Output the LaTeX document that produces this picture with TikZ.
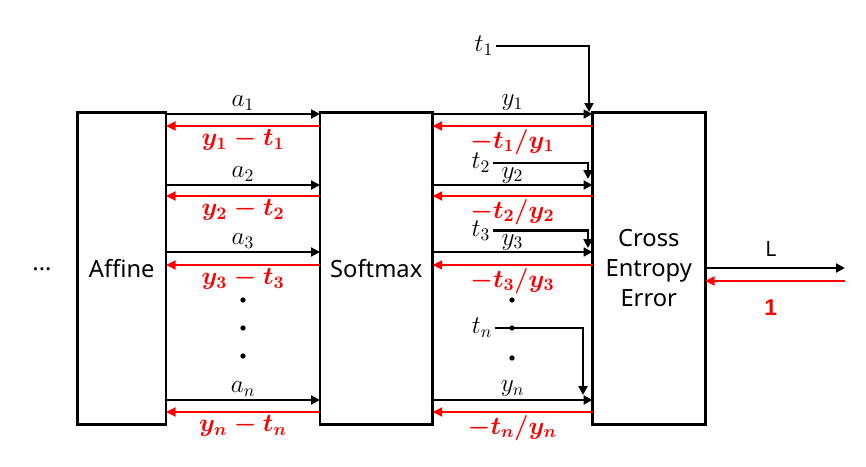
\documentclass[tikz,border=0pt]{standalone}
\usepackage{fontspec}
\newfontfamily\boxfont{Noto Sans}
\newfontfamily\onefont{Liberation Sans}
\usetikzlibrary{arrows.meta, positioning}
\definecolor{gradred}{RGB}{255, 0, 0}

\begin{document}
\begin{tikzpicture}[
    node distance=3.08cm,
    layer/.style={draw, line width=1.7pt, outer sep=0pt, minimum width=2.25cm, minimum height=6.24cm,
                  font=\boxfont\fontsize{13.5}{17}\selectfont, align=center},
    fwd/.style={-{Triangle[length=5pt, width=5pt]}, line width=1.2pt},
    bwd/.style={-{Triangle[length=5.5pt, width=5pt]}, line width=1.6pt, gradred},
    var/.style={font=\fontsize{14}{16}\selectfont, inner sep=1.5pt},
    grad/.style={font=\fontsize{14}{16}\selectfont\boldmath, text=gradred, inner sep=1pt},
    vdot/.style={circle, fill, inner sep=0pt, minimum size=3pt}
  ]
  \useasboundingbox (0,0) rectangle (17.32,9.32);
  \node[layer, minimum width=1.77cm] (affine) at (2.435,3.956) {Affine};
  \node[layer, right=3.08cm of affine] (softmax) {Softmax};
  \node[layer, right=3.2cm of softmax] (cee) {Cross\\Entropy\\Error};
  \node[font=\boxfont\fontsize{13.5}{17}\selectfont] (more) at (0.84,3.94) {...};

  % row heights: f = forward, b = backward
  \coordinate (f1) at (0,7.04); \coordinate (b1) at (0,6.80);
  \coordinate (f2) at (0,5.62); \coordinate (b2) at (0,5.40);
  \coordinate (f3) at (0,4.28); \coordinate (b3) at (0,4.02);
  \coordinate (fn) at (0,1.32); \coordinate (bn) at (0,1.08);

  % vertical dots
  \node[vdot] (ld1) at (4.86,3.32) {};
  \node[vdot] (ld2) at (4.86,2.76) {};
  \node[vdot] (ld3) at (4.86,2.20) {};
  \node[vdot] (rd1) at (10.24,3.32) {};
  \node[vdot] (rd2) at (10.24,2.76) {};
  \node[vdot] (rd3) at (10.24,2.16) {};

  % affine <-> softmax
  \draw[fwd] (affine.east |- f1) -- node[var, above] {$a_1$} (softmax.west |- f1);
  \draw[bwd] (softmax.west |- b1) -- node[grad, below] {$y_1 - t_1$} (affine.east |- b1);
  \draw[fwd] (affine.east |- f2) -- node[var, above] {$a_2$} (softmax.west |- f2);
  \draw[bwd] (softmax.west |- b2) -- node[grad, below] {$y_2 - t_2$} (affine.east |- b2);
  \draw[fwd] (affine.east |- f3) -- node[var, above] {$a_3$} (softmax.west |- f3);
  \draw[bwd] (softmax.west |- b3) -- node[grad, below] {$y_3 - t_3$} (affine.east |- b3);
  \draw[fwd] (affine.east |- fn) -- node[var, above] {$a_n$} (softmax.west |- fn);
  \draw[bwd] (softmax.west |- bn) -- node[grad, below] {$y_n - t_n$} (affine.east |- bn);

  % softmax <-> cross entropy
  \draw[fwd] (softmax.east |- f1) -- node[var, above] {$y_1$} (cee.west |- f1);
  \draw[bwd] (cee.west |- b1) -- node[grad, below] {$-t_1/y_1$} (softmax.east |- b1);
  \draw[fwd] (softmax.east |- f2) -- node[var, above, inner sep=0.5pt] {$y_2$} (cee.west |- f2);
  \draw[bwd] (cee.west |- b2) -- node[grad, below] {$-t_2/y_2$} (softmax.east |- b2);
  \draw[fwd] (softmax.east |- f3) -- node[var, above, inner sep=0.5pt] {$y_3$} (cee.west |- f3);
  \draw[bwd] (cee.west |- b3) -- node[grad, below] {$-t_3/y_3$} (softmax.east |- b3);
  \draw[fwd] (softmax.east |- fn) -- node[var, above] {$y_n$} (cee.west |- fn);
  \draw[bwd] (cee.west |- bn) -- node[grad, below] {$-t_n/y_n$} (softmax.east |- bn);

  % teacher labels
  \node[var] (t1) at (9.68,8.40) {$t_1$};
  \node[var] (t2) at (9.62,6.06) {$t_2$};
  \node[var] (t3) at (9.62,4.71) {$t_3$};
  \node[var] (tn) at (9.64,2.76) {$t_n$};
  \coordinate (t1in) at (11.78,7.08);
  \coordinate (t2in) at (11.76,5.74);
  \coordinate (t3in) at (11.76,4.36);
  \coordinate (tnin) at (11.66,1.42);
  \draw[fwd] (t1.east) -| (t1in);
  \draw[fwd] (t2.east) -| (t2in);
  \draw[fwd] (t3.east) -| (t3in);
  \draw[fwd] (tn.east) -| (tnin);

  % loss output
  \coordinate (lout) at (16.90,3.96);
  \coordinate (lin) at (16.90,3.70);
  \draw[fwd] (cee.east |- lout) -- node[above=5pt, pos=0.47, inner sep=1pt,
        font=\boxfont\fontsize{12}{14}\selectfont] {L} (lout);
  \draw[bwd] (lin) -- node[below=9pt, pos=0.53, inner sep=1pt, text=gradred,
        font=\onefont\bfseries\fontsize{13}{15}\selectfont] {1} (cee.east |- lin);
\end{tikzpicture}
\end{document}
